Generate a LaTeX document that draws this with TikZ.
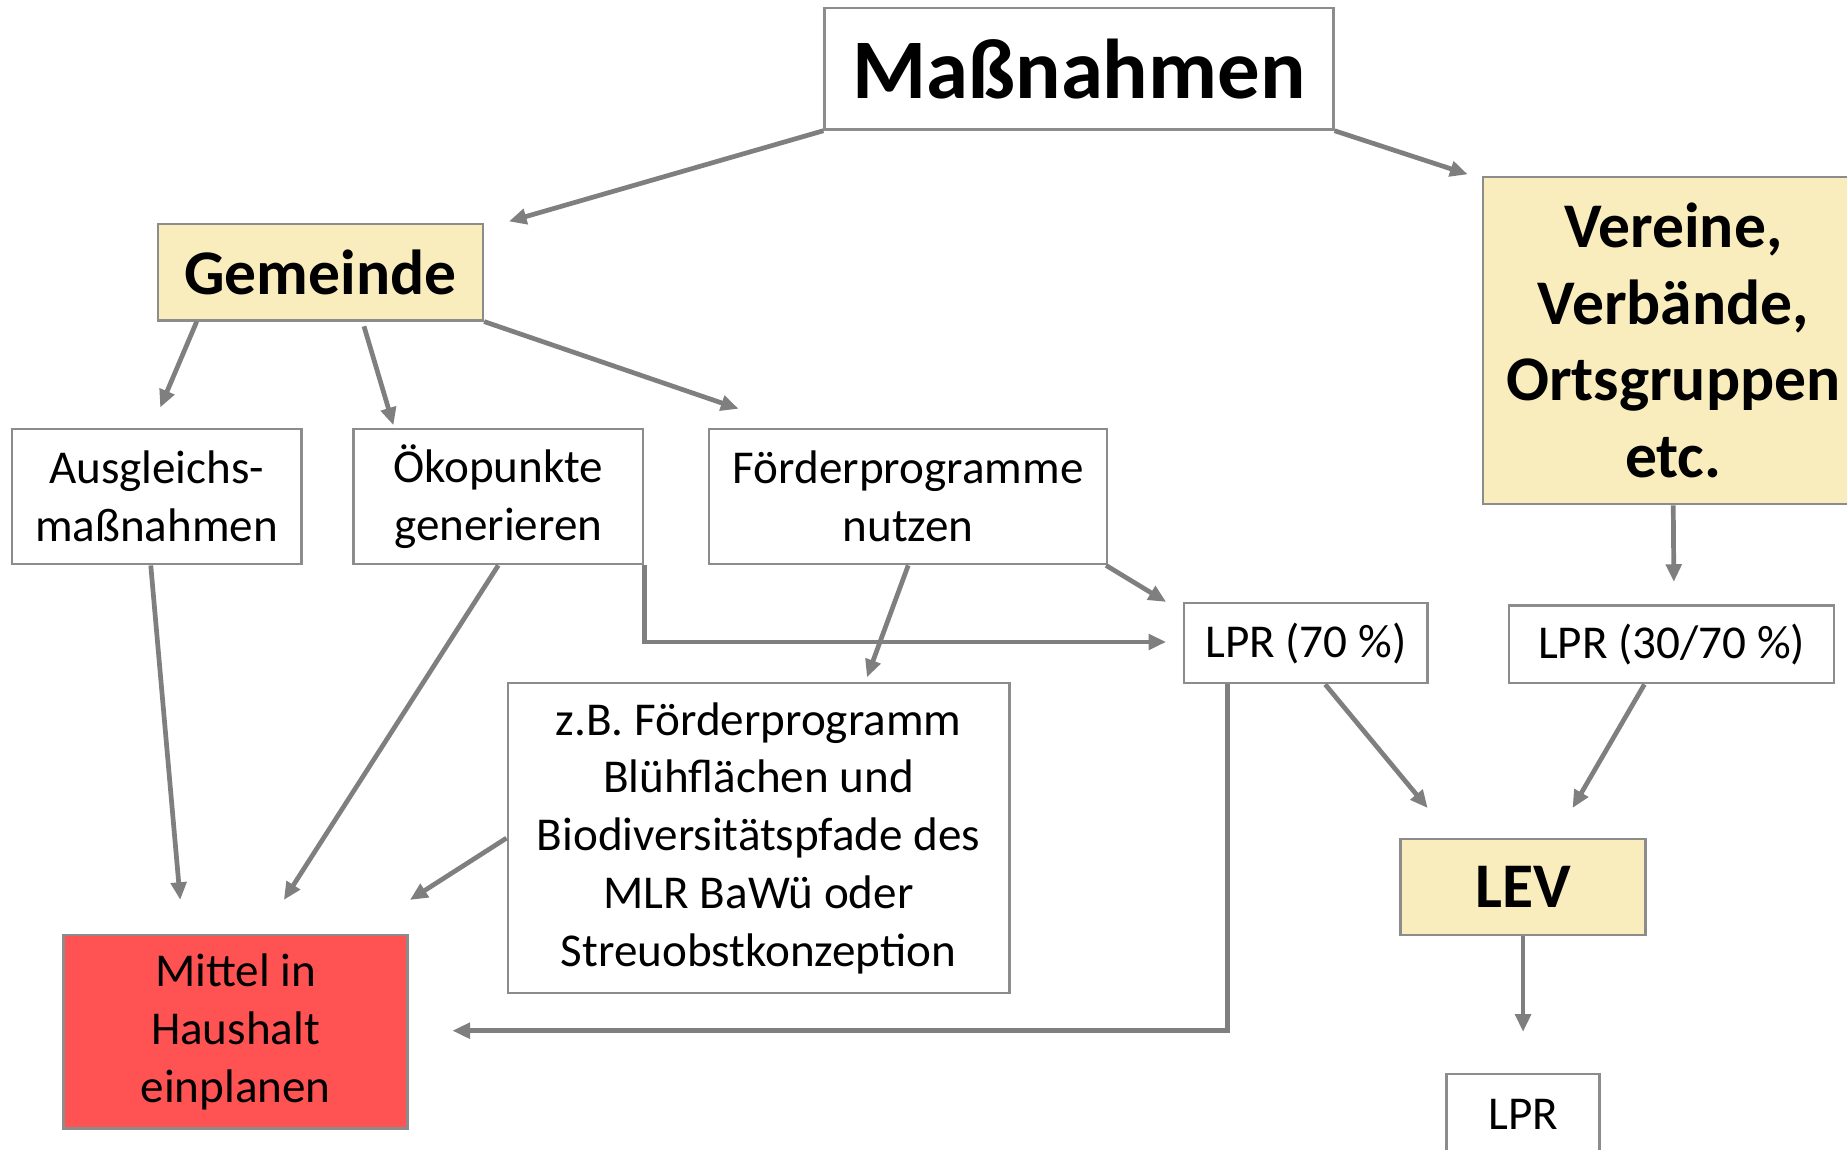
\documentclass[tikz,border=0pt]{standalone}
\usepackage{fontspec}
\setmainfont{Carlito}
\usetikzlibrary{arrows.meta,calc}
\definecolor{boxgray}{HTML}{8C8C8C}
\definecolor{arrgray}{HTML}{7F7F7F}
\definecolor{hlyellow}{HTML}{F9EDBE}
\definecolor{hlred}{HTML}{FF5252}
\tikzset{
 box/.style={draw=boxgray, line width=2pt, rectangle, inner sep=0pt, align=center, font=\fontsize{40}{49}\selectfont},
 headbox/.style={box, fill=hlyellow, font=\fontsize{54}{65}\selectfont\bfseries},
 conn/.style={draw=arrgray, line width=4pt, -{Triangle[length=15pt,width=13pt]}},
}
\begin{document}
\begin{tikzpicture}[x=1pt,y=-1pt]
\useasboundingbox (0,0) rectangle (1568,976);
\fill[white] (0,0) rectangle (1568,976);
% nodes
\node[box, minimum width=432pt, minimum height=103pt, font=\fontsize{72}{86}\selectfont\bfseries] (mass) at (916,58.5) {Maßnahmen};
\node[headbox, minimum width=276pt, minimum height=82pt] (gem) at (272,231) {Gemeinde};
\node[headbox, minimum width=323pt, minimum height=278pt] (ver) at (1420.5,289) {Vereine,\\Verbände,\\Ortsgruppen\\etc.};
\node[box, minimum width=246pt, minimum height=115pt] (aus) at (133,421.5) {Ausgleichs-\\maßnahmen};
\node[box, minimum width=246pt, minimum height=115pt] (oko) at (423,421.5) {Ökopunkte\\generieren};
\node[box, minimum width=338pt, minimum height=115pt] (foe) at (771,421.5) {Förderprogramme\\nutzen};
\node[box, minimum width=207pt, minimum height=68pt] (lprA) at (1108.5,546) {LPR (70 \%)};
\node[box, minimum width=276pt, minimum height=66pt] (lprB) at (1419,547) {LPR (30/70 \%)};
\node[box, minimum width=426pt, minimum height=263pt] (zb) at (644,711.5) {z.B. Förderprogramm\\Blühflächen und\\Biodiversitätspfade des\\MLR BaWü oder\\Streuobstkonzeption};
\node[box, fill=hlred, minimum width=292pt, minimum height=164pt] (mit) at (200,876) {Mittel in\\Haushalt\\einplanen};
\node[headbox, minimum width=208pt, minimum height=82pt] (lev) at (1293,753) {LEV};
\node[box, minimum width=130pt, minimum height=68pt] (lpr) at (1293,946) {LPR};
% arrow tips (free ends)
\coordinate (t1) at (432,188);
\coordinate (t2) at (1246,148);
\coordinate (t3) at (136,346);
\coordinate (t4) at (334,361);
\coordinate (t5) at (627,347);
\coordinate (t6) at (990,511);
\coordinate (t7) at (990,545);
\coordinate (t8) at (736,575);
\coordinate (t9) at (153,764);
\coordinate (t10) at (241,764);
\coordinate (t11) at (348,764);
\coordinate (t12) at (384,875);
\coordinate (t13) at (1212,686);
\coordinate (t14) at (1335,686);
\coordinate (t15) at (1421,494);
\coordinate (t16) at (1293,876);
% connectors
\draw[conn] (mass.south west) -- (t1);
\draw[conn] (mass.south east) -- (t2);
\draw[conn] ($(gem.south west)+(34,0)$) -- (t3);
\draw[conn] ($(gem.south west)+(176,4)$) -- (t4);
\draw[conn] (gem.south east) -- (t5);
\draw[conn] ($(foe.south east)+(-2,0)$) -- (t6);
\draw[conn] (oko.south east) |- (t7);
\draw[conn] (foe.south) -- (t8);
\draw[conn] ($(aus.south)+(-5,0)$) -- (t9);
\draw[conn] (oko.south) -- (t10);
\draw[conn] (zb.west) -- (t11);
\draw[conn] ($(lprA.south west)+(38,0)$) |- (t12);
\draw[conn] ($(lprA.south)+(16.5,0)$) -- (t13);
\draw[conn] ($(lprB.south)+(-23,0)$) -- (t14);
\draw[conn] (ver.south) -- (t15);
\draw[conn] (lev.south) -- (t16);
\end{tikzpicture}
\end{document}
